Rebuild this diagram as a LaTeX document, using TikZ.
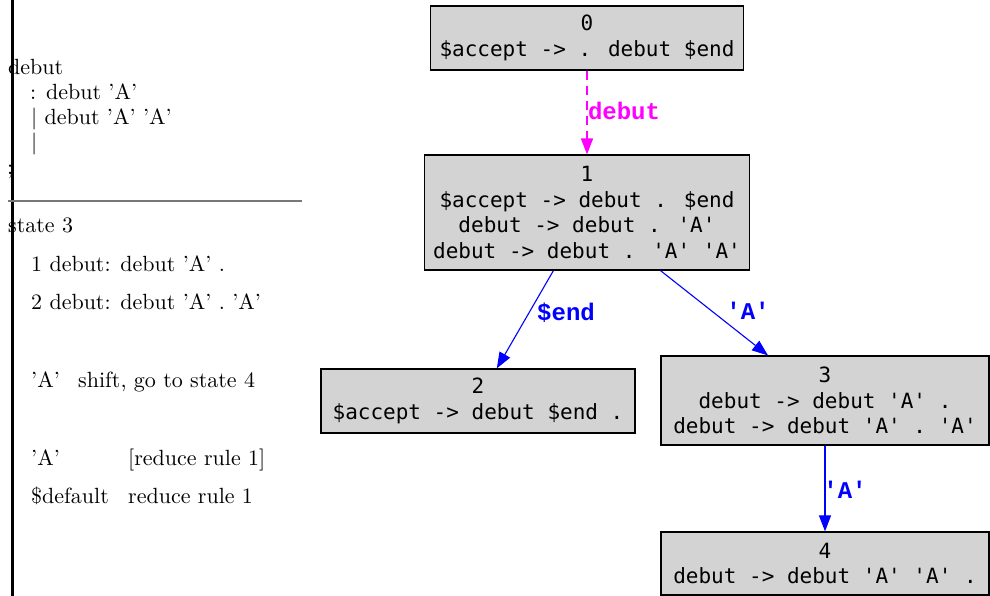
\documentclass[tikz,border=0pt]{standalone}
\usepackage{fontspec}
\newfontfamily\statefont{DejaVu Sans Mono}
\newfontfamily\edgefont{Liberation Mono}
\usetikzlibrary{arrows.meta}
\definecolor{statefill}{RGB}{211,211,211}
\definecolor{rulegray}{RGB}{120,120,120}
\definecolor{gotocolor}{RGB}{255,0,255}
\definecolor{shiftcolor}{RGB}{0,0,255}
\newcommand\bigtxt[1]{\scalebox{2.2}{#1}}

\begin{document}
\begin{tikzpicture}[x=1pt,y=-1pt,
  state/.style={draw=black, line width=1.2pt, fill=statefill, inner sep=0pt,
    align=center, font=\statefont\fontsize{21}{25.7}\selectfont},
  trans/.style={draw=shiftcolor, line width=1.1pt,
    -{Triangle[length=16pt,width=12pt]}},
  gototrans/.style={draw=gotocolor, line width=1.6pt, line cap=butt,
    dash pattern=on 9pt off 6pt,
    -{Triangle[length=16pt,width=12pt,fill=gotocolor]}},
  edgelabel/.style={inner sep=0pt, anchor=center,
    font=\edgefont\bfseries\fontsize{24}{28}\selectfont},
  lefttext/.style={inner sep=0pt, anchor=base west}
]
\useasboundingbox (0,0) rectangle (990,596);

% grammar and state report on the left
\node[lefttext] (g1) at (8,75)  {\bigtxt{debut}};
\node[lefttext] (g2) at (30,100) {\bigtxt{: debut 'A'}};
\node[lefttext] (g3) at (31,125) {\bigtxt{| debut 'A' 'A'}};
\node[lefttext] (g4) at (31,150) {\bigtxt{|}};
\node[lefttext] (g5) at (7,175) {\bigtxt{;}};

\node[lefttext] (r1) at (8,233)  {\bigtxt{state 3}};
\node[lefttext] (r2) at (31,271) {\bigtxt{1 debut: debut 'A' .}};
\node[lefttext] (r3) at (31,309) {\bigtxt{2 debut: debut 'A' . 'A'}};
\node[lefttext] (r4) at (31,387) {\bigtxt{'A'}};
\node[lefttext] (r5) at (78,387) {\bigtxt{shift, go to state 4}};
\node[lefttext] (r6) at (31,465) {\bigtxt{'A'}};
\node[lefttext] (r7) at (128,465) {\bigtxt{[reduce rule 1]}};
\node[lefttext] (r8) at (31,503) {\bigtxt{\$default}};
\node[lefttext] (r9) at (128,503) {\bigtxt{reduce rule 1}};

\draw[line width=3pt] (12.5,0) -- (12.5,596);
\draw[rulegray, line width=1.5pt] (8,201) -- (302,201);

% automaton states
\node[state, minimum width=313pt, minimum height=64pt] (s0) at (587,38)
  {0\\\$accept -> . debut \$end};
\node[state, minimum width=325pt, minimum height=115pt] (s1) at (587,212.5)
  {1\\\$accept -> debut . \$end\\debut -> debut . 'A'\\debut -> debut . 'A' 'A'};
\node[state, minimum width=314pt, minimum height=64pt] (s2) at (478,401)
  {2\\\$accept -> debut \$end .};
\node[state, minimum width=328pt, minimum height=89pt] (s3) at (825,400.5)
  {3\\debut -> debut 'A' .\\debut -> debut 'A' . 'A'};
\node[state, minimum width=328pt, minimum height=63pt] (s4) at (825,563.5)
  {4\\debut -> debut 'A' 'A' .};

% transitions
\draw[gototrans] (s0.south) -- (s1.north);
\draw[trans] (s1) -- (s2);
\draw[trans] (s1) -- (s3);
\draw[trans] (s3) -- (s4);

\node[edgelabel, text=gotocolor] (l01) at (624,111) {debut};
\node[edgelabel, text=shiftcolor] (l12) at (566,313) {\$end};
\node[edgelabel, text=shiftcolor] (l13) at (748,311) {'A'};
\node[edgelabel, text=shiftcolor] (l34) at (845,490) {'A'};
\end{tikzpicture}
\end{document}
